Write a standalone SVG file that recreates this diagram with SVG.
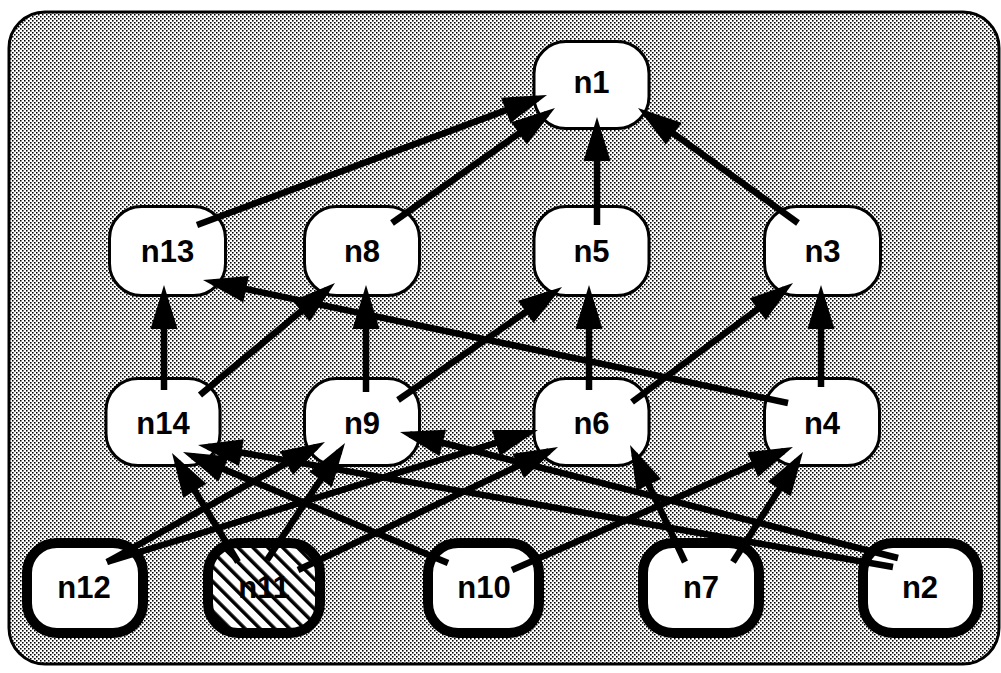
<svg xmlns="http://www.w3.org/2000/svg" width="1001" height="673" viewBox="0 0 1001 673">
  <defs>
    <pattern id="dots" patternUnits="userSpaceOnUse" width="4" height="4">
      <rect width="4" height="4" fill="#ffffff"/>
      <rect x="0" y="0" width="1.55" height="1.55" fill="#000"/>
      <rect x="2" y="2" width="1.55" height="1.55" fill="#000"/>
    </pattern>
    <pattern id="hatch" patternUnits="userSpaceOnUse" width="10.5" height="10.5" patternTransform="rotate(-45)">
      <rect width="10.5" height="10.5" fill="#ffffff"/>
      <rect x="0" y="0" width="3.5" height="10.5" fill="#000"/>
    </pattern>
    <marker id="arrow" markerUnits="userSpaceOnUse" orient="auto" viewBox="-48 -16 54 32" markerWidth="54" markerHeight="32" refX="-10" refY="0" overflow="visible">
      <path d="M0,0 L-44,-13.5 L-44,13.5 Z" fill="#000"/>
    </marker>
  </defs>
  <style>
    .node rect { fill: #ffffff; stroke: #000; stroke-width: 3; }
    .leaf rect { fill: #ffffff; stroke: #000; stroke-width: 10; }
    .hatched rect { fill: url(#hatch); }
    text { font-family: "Liberation Sans", Arial, sans-serif; font-weight: bold; font-size: 31px; text-anchor: middle; fill: #000; }
    #edges line { stroke: #000; stroke-width: 6.5; stroke-linecap: butt; marker-end: url(#arrow); }
  </style>
  <rect x="0" y="0" width="1001" height="673" fill="#ffffff"/>
  <rect id="frame" x="9" y="12" width="990" height="652" rx="36" fill="url(#dots)" stroke="#000" stroke-width="3"/>

  <g id="n1" class="node"><rect x="534" y="41.5" width="115" height="87" rx="32"/><text x="591.5" y="93">n1</text></g>

  <g id="n13" class="node"><rect x="109.5" y="206.5" width="116" height="89" rx="32"/><text x="167.5" y="262">n13</text></g>
  <g id="n8" class="node"><rect x="304.5" y="206.5" width="115" height="89" rx="32"/><text x="362" y="262">n8</text></g>
  <g id="n5" class="node"><rect x="534" y="206.5" width="115" height="89" rx="32"/><text x="591.5" y="262">n5</text></g>
  <g id="n3" class="node"><rect x="764.5" y="206.5" width="116" height="89" rx="32"/><text x="822.5" y="262">n3</text></g>

  <g id="n14" class="node"><rect x="106" y="378.5" width="114" height="87" rx="32"/><text x="163" y="434">n14</text></g>
  <g id="n9" class="node"><rect x="304.5" y="378.5" width="115" height="87" rx="32"/><text x="362" y="434">n9</text></g>
  <g id="n6" class="node"><rect x="534" y="378.5" width="115" height="87" rx="32"/><text x="591.5" y="434">n6</text></g>
  <g id="n4" class="node"><rect x="764.5" y="378.5" width="115" height="87" rx="32"/><text x="822" y="434">n4</text></g>

  <g id="n12" class="leaf"><rect x="27" y="543" width="116" height="90" rx="30"/><text x="84" y="598">n12</text></g>
  <g id="n11" class="leaf hatched"><rect x="208" y="543" width="112" height="90" rx="30"/><text x="264" y="598">n11</text></g>
  <g id="n10" class="leaf"><rect x="428" y="543" width="111" height="90" rx="30"/><text x="484" y="598">n10</text></g>
  <g id="n7" class="leaf"><rect x="643" y="543" width="116" height="90" rx="30"/><text x="701" y="598">n7</text></g>
  <g id="n2" class="leaf"><rect x="863" y="543" width="115" height="90" rx="30"/><text x="920" y="598">n2</text></g>

  <g id="edges">
    <line x1="197" y1="225" x2="537.6" y2="98.5"/>
    <line x1="392" y1="223" x2="546.8" y2="113.8"/>
    <line x1="597" y1="225" x2="597" y2="127"/>
    <line x1="798" y1="223" x2="646.1" y2="113.8"/>
    <line x1="164" y1="390" x2="164" y2="295"/>
    <line x1="200" y1="395" x2="327.3" y2="289.4"/>
    <line x1="366" y1="392" x2="366" y2="295"/>
    <line x1="398" y1="400" x2="553.8" y2="292.7"/>
    <line x1="788" y1="403" x2="212.8" y2="282.1"/>
    <line x1="589" y1="390" x2="589" y2="295"/>
    <line x1="632" y1="402" x2="785" y2="288.9"/>
    <line x1="821" y1="387" x2="821" y2="295"/>
    <line x1="107" y1="562" x2="316.2" y2="446.8"/>
    <line x1="107" y1="562" x2="528.4" y2="432.9"/>
    <line x1="238" y1="562" x2="177.2" y2="461.6"/>
    <line x1="267" y1="560" x2="339.5" y2="451.3"/>
    <line x1="298" y1="570" x2="549" y2="451.3"/>
    <line x1="448" y1="563" x2="192.2" y2="455.9"/>
    <line x1="512" y1="570" x2="783.8" y2="451"/>
    <line x1="685" y1="562" x2="634.3" y2="454"/>
    <line x1="733" y1="562" x2="797.6" y2="460.4"/>
    <line x1="893" y1="567" x2="207.9" y2="446.7"/>
    <line x1="898" y1="558" x2="409.7" y2="434.5"/>
  </g>
</svg>
